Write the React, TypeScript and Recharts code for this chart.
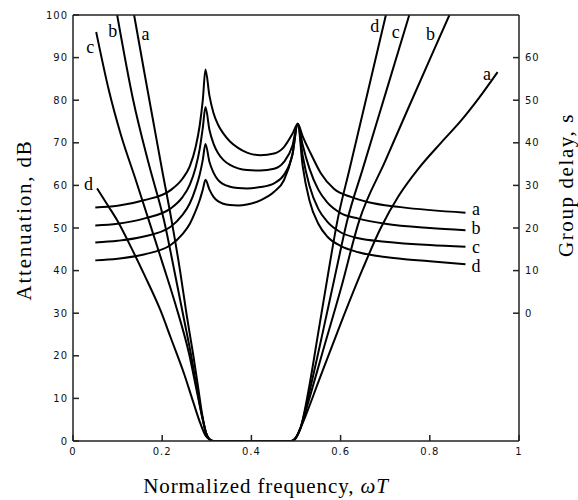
import { LineChart, Line, XAxis, YAxis } from "recharts";

// axis ticks
const freqTicks = [0, 0.2, 0.4, 0.6, 0.8, 1];
const attTicks = [0, 10, 20, 30, 40, 50, 60, 70, 80, 90, 100];
const delayTicks = [0, 10, 20, 30, 40, 50, 60];

// attenuation, dB  [normalized frequency, dB]
const attA: [number, number][] = [
  [0.137, 100], [0.16, 86.5], [0.18, 75], [0.2, 63.5], [0.221, 51.8], [0.24, 40],
  [0.255, 29.5], [0.269, 20.6], [0.28, 13], [0.29, 6], [0.298, 2], [0.305, 0.5],
  [0.315, 0], [0.4, 0], [0.49, 0], [0.5, 0.8], [0.51, 3], [0.52, 5.5], [0.55, 13.8],
  [0.6, 27.5], [0.65, 40.5], [0.69, 50], [0.73, 57.5], [0.775, 64], [0.825, 70],
  [0.87, 75.2], [0.91, 80.5], [0.952, 86.6],
];
const attB: [number, number][] = [
  [0.099, 100], [0.135, 80], [0.17, 65], [0.204, 51.8], [0.23, 38.5], [0.25, 28],
  [0.264, 20.6], [0.28, 11], [0.29, 5.5], [0.298, 2], [0.305, 0.5], [0.315, 0],
  [0.4, 0], [0.49, 0], [0.5, 0.8], [0.51, 3], [0.53, 10], [0.56, 21], [0.6, 35.5],
  [0.642, 51.8], [0.7, 65.7], [0.75, 77.7], [0.8, 89.6], [0.844, 100],
];
const attC: [number, number][] = [
  [0.052, 96], [0.08, 82.5], [0.107, 72], [0.14, 61.5], [0.17, 51.8], [0.2, 42],
  [0.23, 32], [0.26, 20.6], [0.278, 11.5], [0.29, 5.5], [0.298, 2], [0.306, 0.5],
  [0.316, 0], [0.4, 0], [0.49, 0], [0.5, 0.8], [0.51, 3], [0.53, 11.5], [0.56, 25.5],
  [0.59, 40], [0.615, 51.8], [0.65, 64], [0.7, 81.3], [0.754, 100],
];
const attD: [number, number][] = [
  [0.054, 59.3], [0.08, 55], [0.099, 51.8], [0.13, 45.5], [0.16, 39], [0.196, 30.7],
  [0.22, 24], [0.25, 15.5], [0.27, 9], [0.286, 4], [0.297, 1.3], [0.305, 0.4],
  [0.315, 0], [0.4, 0], [0.49, 0], [0.5, 0.8], [0.51, 3], [0.53, 13], [0.55, 25.5],
  [0.57, 38], [0.593, 51.8], [0.62, 63.8], [0.66, 81.5], [0.7015, 100],
];

// group delay, s  [normalized frequency, s]
const delayA: [number, number][] = [
  [0.05, 24.8], [0.1, 25.2], [0.159, 26.5], [0.219, 28.9], [0.245, 31.5], [0.262, 34.5],
  [0.275, 39], [0.284, 44], [0.291, 50], [0.297, 57.2], [0.306, 51], [0.315, 47],
  [0.325, 44.3], [0.337, 42.2], [0.352, 40.3], [0.37, 38.8], [0.39, 37.7], [0.42, 37.1],
  [0.451, 37.5], [0.473, 39], [0.492, 42.1], [0.504, 44.5], [0.515, 41.5], [0.533, 37.5],
  [0.556, 32.8], [0.585, 29.2], [0.623, 27.3], [0.66, 26.1], [0.735, 24.9], [0.88, 23.6],
];
const delayB: [number, number][] = [
  [0.05, 20.6], [0.1, 21], [0.159, 22.2], [0.219, 24.6], [0.245, 27.2], [0.262, 30.2],
  [0.275, 34.2], [0.284, 38.5], [0.291, 43.5], [0.297, 48.4], [0.306, 43], [0.315, 39.8],
  [0.325, 37.6], [0.337, 36], [0.352, 34.8], [0.37, 34], [0.39, 33.6], [0.42, 33.5],
  [0.451, 33.9], [0.473, 35.5], [0.492, 39.3], [0.504, 44.5], [0.515, 39.5], [0.53, 34],
  [0.55, 29], [0.57, 26], [0.6, 23.5], [0.64, 22.2], [0.7, 21], [0.8, 20], [0.88, 19.5],
];
const delayC: [number, number][] = [
  [0.05, 16.6], [0.1, 17], [0.159, 18], [0.219, 20.3], [0.245, 23], [0.262, 25.8],
  [0.275, 29.3], [0.284, 32.5], [0.291, 36], [0.297, 39.7], [0.306, 35.5], [0.315, 33],
  [0.325, 31.3], [0.337, 30.3], [0.352, 29.7], [0.37, 29.4], [0.39, 29.3], [0.42, 29.6],
  [0.451, 30.5], [0.473, 32.5], [0.492, 37.2], [0.504, 44.5], [0.515, 37], [0.53, 30],
  [0.55, 24.5], [0.57, 21.5], [0.6, 19], [0.64, 17.6], [0.7, 16.8], [0.8, 16], [0.88, 15.6],
];
const delayD: [number, number][] = [
  [0.05, 12.4], [0.1, 12.8], [0.159, 13.8], [0.219, 16], [0.245, 18.5], [0.262, 21],
  [0.275, 24], [0.284, 26.5], [0.291, 29], [0.297, 31.3], [0.306, 29], [0.315, 27.3],
  [0.325, 26.3], [0.337, 25.7], [0.352, 25.4], [0.37, 25.3], [0.39, 25.5], [0.42, 26.5],
  [0.451, 28.5], [0.473, 31.2], [0.492, 37.3], [0.504, 44.5], [0.515, 34.5], [0.53, 26.5],
  [0.55, 21], [0.57, 18], [0.6, 15.8], [0.64, 14.3], [0.7, 13.2], [0.8, 12.2], [0.88, 11.5],
];

type Offset = [number, number] | null;

// curve letters are drawn next to the first / last point of each series
const series = [
  { id: "att-a", name: "a", rows: attA, axis: "att", first: [11.5, 18.5] as Offset, last: [-10.5, 2] as Offset },
  { id: "att-b", name: "b", rows: attB, axis: "att", first: [-4.5, 15.5] as Offset, last: [-19, 18.5] as Offset },
  { id: "att-c", name: "c", rows: attC, axis: "att", first: [-6, 14.5] as Offset, last: [-13.5, 16.5] as Offset },
  { id: "att-d", name: "d", rows: attD, axis: "att", first: [-8.5, -4] as Offset, last: [-11, 10.5] as Offset },
  { id: "gd-a", name: "a", rows: delayA, axis: "gd", first: null, last: [10.5, -3.5] as Offset },
  { id: "gd-b", name: "b", rows: delayB, axis: "gd", first: null, last: [10.5, -2] as Offset },
  { id: "gd-c", name: "c", rows: delayC, axis: "gd", first: null, last: [10.5, 0] as Offset },
  { id: "gd-d", name: "d", rows: delayD, axis: "gd", first: null, last: [10.5, 2] as Offset },
];

const serif = "'Liberation Serif', 'Times New Roman', serif";
const sans = "'DejaVu Sans', sans-serif";
const axisColor = "#222";
const tickStyle = { fontSize: 10, fontFamily: sans, fill: "#111", letterSpacing: 1 };

function curveLabel(name: string, total: number, first: Offset, last: Offset) {
  return (props: any) => {
    const { x, y, index } = props;
    const off = index === 0 ? first : index === total - 1 ? last : null;
    if (!off || x == null || y == null) return <g key={`l-${index}`} />;
    return (
      <text
        key={`l-${index}`}
        x={x + off[0]}
        y={y + off[1]}
        textAnchor="middle"
        dominantBaseline="central"
        fontFamily={serif}
        fontSize={18}
        fill="#000"
      >
        {name}
      </text>
    );
  };
}

const fmtFreq = (v: number) => (v === 0 || v === 1 ? String(v) : v.toFixed(1));

export default function App() {
  return (
    <div style={{ position: "absolute", left: 0, top: 0, width: 578, height: 500, background: "#fff" }}>
      <LineChart width={578} height={500} margin={{ top: 14, right: 0, bottom: 0, left: 0 }}>
        <XAxis
          xAxisId="bottom"
          dataKey="x"
          type="number"
          domain={[0, 1]}
          ticks={freqTicks}
          tickFormatter={fmtFreq}
          height={59}
          tickSize={-6}
          tickMargin={13}
          tick={tickStyle}
          stroke={axisColor}
          strokeWidth={1.5}
          allowDataOverflow
        />
        <XAxis
          xAxisId="top"
          orientation="top"
          dataKey="x"
          type="number"
          domain={[0, 1]}
          ticks={freqTicks}
          height={1}
          tickSize={-6}
          tick={false}
          stroke={axisColor}
          strokeWidth={1.5}
          allowDataOverflow
        />
        <YAxis
          yAxisId="att"
          type="number"
          domain={[0, 100]}
          ticks={attTicks}
          width={73}
          tickSize={-6}
          tickMargin={11}
          tick={tickStyle}
          stroke={axisColor}
          strokeWidth={1.5}
          allowDataOverflow
        />
        <YAxis
          yAxisId="gd"
          orientation="right"
          type="number"
          domain={[-30, 70]}
          ticks={delayTicks}
          width={59}
          tickSize={-6}
          tickMargin={12}
          tick={tickStyle}
          stroke={axisColor}
          strokeWidth={1.5}
          allowDataOverflow
        />
        {series.map((s) => (
          <Line
            key={s.id}
            xAxisId="bottom"
            yAxisId={s.axis}
            data={s.rows.map(([x, y]) => ({ x, y }))}
            dataKey="y"
            type="monotone"
            stroke="#000"
            strokeWidth={2}
            dot={false}
            activeDot={false}
            isAnimationActive={false}
            label={curveLabel(s.name, s.rows.length, s.first, s.last)}
          />
        ))}
      </LineChart>
      <svg
        width={578}
        height={500}
        style={{ position: "absolute", left: 0, top: 0, pointerEvents: "none" }}
      >
        <text
          x={266}
          y={493}
          textAnchor="middle"
          fontFamily={serif}
          fontSize={21}
          letterSpacing={0.9}
          fill="#000"
        >
          Normalized frequency, <tspan fontStyle="italic">ωT</tspan>
        </text>
        <text
          transform="translate(31 220) rotate(-90)"
          textAnchor="middle"
          fontFamily={serif}
          fontSize={21}
          letterSpacing={1.8}
          fill="#000"
        >
          Attenuation, dB
        </text>
        <text
          transform="translate(573 185) rotate(-90)"
          textAnchor="middle"
          fontFamily={serif}
          fontSize={21}
          letterSpacing={1.6}
          fill="#000"
        >
          Group delay, s
        </text>
      </svg>
    </div>
  );
}
